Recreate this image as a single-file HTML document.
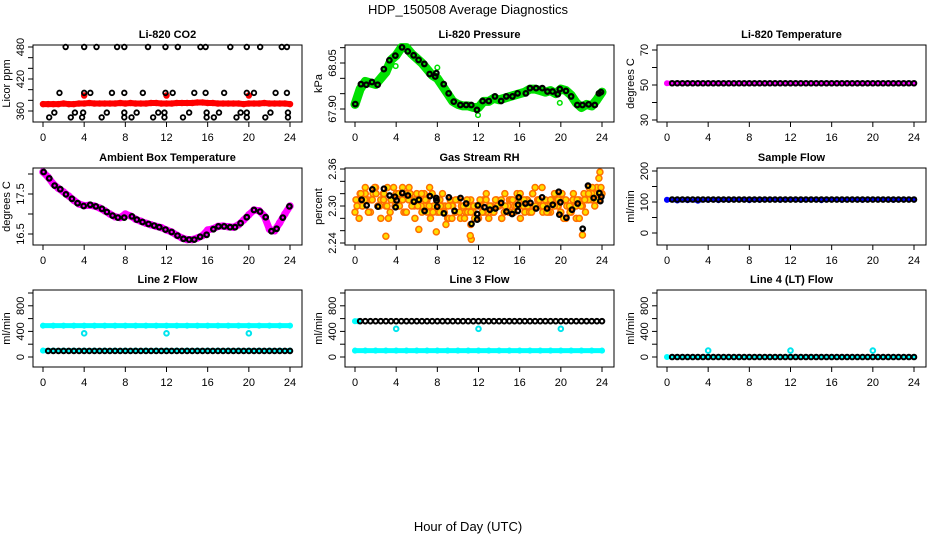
<!DOCTYPE html>
<html><head><meta charset="utf-8">
<style>
html,body{margin:0;padding:0;background:#fff;}
svg{display:block;font-family:"Liberation Sans",sans-serif;}
</style></head>
<body>
<svg id="chart" width="936" height="540" viewBox="0 0 936 540">
<text x="468" y="14" text-anchor="middle" font-size="13">HDP_150508  Average Diagnostics</text>
<text x="468" y="531" text-anchor="middle" font-size="13">Hour of Day (UTC)</text>
</svg>
<script>
// ---------- data ----------
const xTicks = [0,4,8,12,16,20,24];
// CO2
const co2BlackX = [2.2,4.0,5.2,7.2,7.9,10.2,11.9,13.1,15.3,15.8,18.2,19.8,21.1,23.2,23.7,
 1.6,4.0,4.6,6.7,7.9,9.7,11.9,12.6,14.7,15.8,17.6,19.8,20.5,22.6,23.7,
 1.1,3.1,3.9,6.2,7.9,9.1,11.2,11.8,14.2,15.9,17.1,19.2,19.8,22.1,23.8,
 0.6,2.7,3.8,5.7,7.9,8.6,10.7,11.8,13.6,15.9,16.6,18.8,19.8,21.6,23.8];
const co2BlackY = [480,480,480,480,480,480,480,480,480,480,480,480,480,480,480,
 394,394,394,394,394,394,394,394,394,394,394,394,394,394,394,
 357,357,357,357,357,357,357,357,357,357,357,357,357,357,357,
 348,348,348,348,348,348,348,348,348,348,348,348,348,348,348];
const co2Red = [373,373,373,373,374,373,373,374,374,375,374,374,374,374,374,375,374,375,374,374,374,375,375,374,374,374,375,375,375,375,376,376,375,375,374,374,374,374,374,373,374,374,374,375,374,374,374,374,373];
const co2RedOutX = [4.0,12.0,20.0];
const co2RedOutY = [389,389,389];
// Pressure
const presX = [0.03,0.58,1.1,1.65,2.2,2.8,3.34,3.92,4.57,5.12,5.7,6.18,6.74,7.25,7.8,7.9,8.62,9.1,9.6,10.24,10.8,11.3,11.85,12.4,13.0,13.6,14.2,14.7,15.3,15.8,16.6,17.0,17.6,18.2,18.7,19.2,19.7,19.9,20.5,21.0,21.6,22.1,22.7,23.3,23.7,23.9];
const presY = [67.916,67.981,67.979,67.988,67.979,68.030,68.059,68.074,68.101,68.088,68.075,68.060,68.047,68.014,68.006,68.017,67.981,67.951,67.924,67.913,67.913,67.913,67.897,67.926,67.926,67.941,67.926,67.941,67.941,67.951,67.951,67.968,67.968,67.968,67.957,67.957,67.948,67.965,67.959,67.941,67.913,67.913,67.915,67.913,67.951,67.955];
const presGreen = [67.915,67.965,67.99,67.985,67.98,68.0,68.02,68.06,68.075,68.10,68.10,68.08,68.065,68.05,68.03,68.01,68.0,67.975,67.95,67.925,67.915,67.91,67.91,67.905,67.905,67.925,67.925,67.935,67.93,67.935,67.94,67.945,67.95,67.955,67.965,67.965,67.96,67.955,67.96,67.95,67.965,67.96,67.945,67.92,67.905,67.915,67.91,67.93,67.955];
const presGreenOutX = [3.95,8.0,11.95,19.9];
const presGreenOutY = [68.04,68.035,67.88,67.92];
// Li-820 temperature
const tempBlack = [51,51,51,51,51,51,51,51,51,51,51,51,51,51,51,51,51,51,51,51,51,51,51,51,51,51,51,51,51,51,51,51,51,51,51,51,51,51,51,51,51,51,51,51,51,51,51,51];
const tempMag = [51,51,51,51,51,51,51,51,51,51,51,51,51,51,51,51,51,51,51,51,51,51,51,51,51];
// Ambient box temperature
const ambX = [0.06,0.61,1.13,1.68,2.23,2.81,3.36,3.95,4.59,5.14,5.73,6.21,6.76,7.28,7.89,8.64,9.12,9.67,10.25,10.8,11.3,11.9,12.5,13.07,13.65,14.2,14.7,15.27,15.9,16.56,17.05,17.6,18.18,18.66,19.2,19.8,20.5,21.09,21.64,22.2,22.7,23.3,23.94];
const ambY = [18.05,17.89,17.71,17.62,17.49,17.38,17.27,17.20,17.23,17.19,17.13,17.05,16.96,16.91,16.91,16.94,16.86,16.80,16.75,16.71,16.67,16.61,16.55,16.46,16.38,16.36,16.36,16.43,16.48,16.62,16.69,16.69,16.67,16.67,16.77,16.92,17.10,17.06,16.92,16.57,16.63,16.91,17.19];
const ambMag = [18.05,17.92,17.75,17.64,17.55,17.45,17.34,17.25,17.21,17.22,17.2,17.15,17.08,17.0,16.93,16.91,17.0,16.95,16.87,16.82,16.77,16.73,16.69,16.66,16.6,16.55,16.47,16.4,16.36,16.36,16.4,16.46,16.6,16.63,16.69,16.7,16.68,16.67,16.73,16.85,16.98,17.1,17.08,16.95,16.62,16.58,16.78,17.0,17.2];
// Gas stream RH
const rhPx = [148,163,180,197,215,232,248,250,253,270,287,305,320,337,353,372,373,375,395,410,427,445,462,478,495,495,497,517,533,550,567,583,600,617,618,620,640,655,672,690,705,722,740,742,745,763,780,797,812,828,845,862,865,868];
const rhY = [2.310,2.301,2.327,2.299,2.328,2.317,2.315,2.298,2.309,2.321,2.317,2.307,2.310,2.292,2.316,2.313,2.309,2.299,2.288,2.314,2.292,2.313,2.304,2.271,2.287,2.278,2.301,2.298,2.294,2.296,2.305,2.291,2.287,2.292,2.302,2.314,2.304,2.305,2.296,2.314,2.296,2.302,2.323,2.286,2.306,2.281,2.294,2.304,2.263,2.333,2.313,2.321,2.308,2.315];
const rhOrange1 = [2.29,2.31,2.32,2.30,2.33,2.31,2.29,2.32,2.33,2.30,2.31,2.32,2.30,2.28,2.31,2.33,2.32,2.30,2.31,2.29,2.32,2.33,2.31,2.30,2.32,2.31,2.29,2.30,2.31,2.33,2.32,2.30,2.29,2.31,2.32,2.30,2.28,2.31,2.30,2.29,2.31,2.28,2.30,2.29,2.30,2.27,2.29,2.30,2.28,2.30,2.31,2.29,2.28,2.30,2.29,2.31,2.30,2.28,2.29,2.30,2.31,2.29,2.30,2.32,2.31,2.30,2.29,2.31,2.30,2.32,2.33,2.31,2.30,2.29,2.31,2.30,2.29,2.31,2.32,2.30,2.29,2.31,2.28,2.30,2.29,2.30,2.28,2.31,2.30,2.32,2.31,2.33,2.31,2.32,2.33,2.31,2.32];
const rhOrange2 = [2.31,2.28,2.30,2.32,2.29,2.31,2.33,2.30,2.28,2.32,2.30,2.29,2.31,2.32,2.30,2.33,2.29,2.31,2.30,2.28,2.31,2.30,2.32,2.29,2.28,2.30,2.31,2.29,2.30,2.27,2.28,2.30,2.29,2.31,2.30,2.28,2.29,2.31,2.30,2.28,2.31,2.29,2.32,2.30,2.29,2.31,2.30,2.28,2.32,2.30,2.31,2.29,2.30,2.28,2.30,2.31,2.29,2.32,2.30,2.31,2.33,2.30,2.29,2.31,2.32,2.30,2.29,2.28,2.30,2.29,2.31,2.30,2.28,2.30,2.29,2.31,2.32,2.30,2.31,2.33];
const rhOrange3 = [2.30,2.32,2.31,2.29,2.31,2.32,2.30,2.31,2.33,2.31,2.30,2.32,2.31,2.29,2.32,2.31,2.30,2.32,2.31,2.30,2.29,2.31,2.30,2.29,2.30,2.28,2.31,2.29,2.30,2.31,2.29,2.28,2.30,2.29,2.31,2.30,2.29,2.30,2.31,2.30,2.29,2.31,2.30,2.32,2.31,2.30,2.29,2.30,2.31,2.30,2.29,2.31,2.30,2.31,2.32,2.31,2.30,2.32,2.31,2.30,2.31,2.32,2.33,2.31,2.32];
const rhOutX = [3.0,6.2,7.9,11.3,11.2,22.1,23.8,23.7];
const rhOutY = [2.251,2.262,2.258,2.246,2.252,2.253,2.355,2.345];
// Sample flow
const sfBlack = [108,108,108,108,108,108,108,108,108,108,108,108,108,108,108,108,108,108,108,108,108,108,108,108,108,108,108,108,108,108,108,108,108,108,108,108,108,108,108,108,108,108,108,108,108,108,108,108];
const sfBlue = [107,105,106,104,107,106,107,108,106,107,108,107,108,107,108,106,108,107,108,107,108,108,107,108,108];
// Line flows
const l2Black = [95,95,95,95,95,95,95,95,95,95,95,95,95,95,95,95,95,95,95,95,95,95,95,95,95,95,95,95,95,95,95,95,95,95,95,95,95,95,95,95,95,95,95,95,95,95,95,95];
const l2CyanHigh = [490,490,490,490,490,490,490,490,490,490,490,490,490,490,490,490,490,490,490,490,490,490,490,490,490];
const l2CyanLow = [100,100,100,100,100,100,100,100,100,100,100,100,100,100,100,100,100,100,100,100,100,100,100,100,100];
const l2OutX = [4,12,20];
const l2OutY = [370,370,370];
const l3Black = [560,560,560,560,560,560,560,560,560,560,560,560,560,560,560,560,560,560,560,560,560,560,560,560,560,560,560,560,560,560,560,560,560,560,560,560,560,560,560,560,560,560,560,560,560,560,560,560];
const l3CyanLow = [100,100,100,100,100,100,100,100,100,100,100,100,100,100,100,100,100,100,100,100,100,100,100,100,100];
const l3CyanHighX = [0,0.3];
const l3CyanHighY = [560,560];
const l3OutX = [4,12,20];
const l3OutY = [440,440,440];
const l4Black = [0,0,0,0,0,0,0,0,0,0,0,0,0,0,0,0,0,0,0,0,0,0,0,0,0,0,0,0,0,0,0,0,0,0,0,0,0,0,0,0,0,0,0,0,0,0,0,0];
const l4Cyan = [0,0,0,0,0,0,0,0,0,0,0,0,0,0,0,0,0,0,0,0,0,0,0,0,0];
const l4OutX = [4,12,20];
const l4OutY = [100,100,100];

// ---------- drawing ----------
const NS = "http://www.w3.org/2000/svg";
const svg = document.getElementById("chart");
function mk(tag, attrs, parent){
  const e = document.createElementNS(NS, tag);
  for (const k in attrs) e.setAttribute(k, attrs[k]);
  (parent||svg).appendChild(e);
  return e;
}
const cols = [{L:33,R:302,X0:43,X24:290},{L:345,R:614,X0:355,X24:602},{L:657,R:926,X0:667,X24:914}];
const rows = [{T:45,B:122},{T:168,B:245},{T:290,B:367}];
function seqX(n,start,end){ const a=[]; for(let i=0;i<n;i++) a.push(start+(end-start)*i/(n-1)); return a; }

function panel(cfg){
  const c = cols[cfg.col], r = rows[cfg.row];
  const g = mk("g", {});
  
  
  const xs = h => c.X0 + (c.X24 - c.X0) * h / 24;
  const ys = v => cfg.p1 + (v - cfg.v1) * (cfg.p2 - cfg.p1) / (cfg.v2 - cfg.v1);
  const box = mk("rect", {x:c.L, y:r.T, width:c.R-c.L, height:r.B-r.T, fill:"none", stroke:"#000", "stroke-width":1}, g);
  
  
  const t = mk("text", {x:(c.L+c.R)/2, y:r.T-7, "text-anchor":"middle", "font-size":11, "font-weight":"bold"}, g);
  t.textContent = cfg.title;
  
  
  xTicks.forEach(h => {
    const tk = mk("line", {x1:xs(h), x2:xs(h), y1:r.B, y2:r.B+5, stroke:"#000"}, g);
    
    
    const lb = mk("text", {x:xs(h), y:r.B+19, "text-anchor":"middle", "font-size":11}, g);
    lb.textContent = h;
    
    
  });
  cfg.yTicks.forEach(v => {
    const tk = mk("line", {x1:c.L-5, x2:c.L, y1:ys(v), y2:ys(v), stroke:"#000"}, g);
    
    
  });
  cfg.yLabels.forEach(v => {
    const y = ys(v), x = c.L-9;
    const lb = mk("text", {x:x, y:y, "text-anchor":"middle", "font-size":11, transform:`rotate(-90 ${x} ${y})`}, g);
    lb.textContent = v.toFixed(cfg.dec||0);
    
    
  });
  const ym = (r.T+r.B)/2, yx = c.L-23;
  const yt = mk("text", {x:yx, y:ym, "text-anchor":"middle", "font-size":11, transform:`rotate(-90 ${yx} ${ym})`}, g);
  yt.textContent = cfg.ylab;
  
  
  cfg.series.forEach(s => {
    const sg = mk("g", {}, g);
    
    
    if (s.band) {
      const pts = s.x.map((h,i)=>xs(h)+","+ys(s.y[i])).join(" ");
      mk("polyline", {points:pts, fill:"none", stroke:s.color, "stroke-width":s.band, "stroke-linejoin":"round", "stroke-linecap":"round"}, sg);
    }
    s.x.forEach((h,i) => {
      const ci = mk("circle", {cx:xs(h), cy:ys(s.y[i]), r:s.r||2.3, fill:s.fill||"none", stroke:s.color, "stroke-width":s.sw||1.5}, sg);
      
      
    });
  });
}

const h48 = seqX(48,0.5,24);
panel({name:"panel-co2", col:0,row:0,title:"Li-820 CO2",ylab:"Licor ppm",v1:360,p1:111,v2:480,p2:47,
  yTicks:[360,380,400,420,440,460,480], yLabels:[360,420,480],
  series:[
    {name:"co2-red-series", x:seqX(co2Red.length,0,24), y:co2Red, color:"#ff0000", band:6, r:2.5},
    {name:"co2-red-outliers", x:co2RedOutX, y:co2RedOutY, color:"#ff0000", r:2.5, fill:"#ff0000"},
    {name:"co2-black-series", x:co2BlackX, y:co2BlackY, color:"#000", sw:1.8}
  ]});
panel({name:"panel-pressure", col:1,row:0,title:"Li-820 Pressure",ylab:"kPa",v1:67.90,p1:109,v2:68.05,p2:63,dec:2,
  yTicks:[67.90,67.95,68.00,68.05,68.10], yLabels:[67.90,68.05],
  series:[
    {name:"pressure-green-series", x:seqX(presGreen.length,0,24), y:presGreen, color:"#00e000", band:9, r:3},
    {name:"pressure-green-outliers", x:presGreenOutX, y:presGreenOutY, color:"#00e000"},
    {name:"pressure-black-series", x:presX, y:presY, color:"#000", sw:2.2}
  ]});
panel({name:"panel-li820-temperature", col:2,row:0,title:"Li-820 Temperature",ylab:"degrees C",v1:30,p1:120,v2:70,p2:50,
  yTicks:[30,40,50,60,70], yLabels:[30,50,70],
  series:[
    {name:"temp-magenta-series", x:seqX(tempMag.length,0,24), y:tempMag, color:"#ff00ff", band:5},
    {name:"temp-black-series", x:h48, y:tempBlack, color:"#000", sw:2}
  ]});
panel({name:"panel-ambient-temperature", col:0,row:1,title:"Ambient Box Temperature",ylab:"degrees C",v1:16.5,p1:234,v2:17.5,p2:194,dec:1,
  yTicks:[16.5,17.0,17.5,18.0], yLabels:[16.5,17.5],
  series:[
    {name:"ambient-magenta-series", x:seqX(ambMag.length,0,24), y:ambMag, color:"#ff00ff", band:7, r:3},
    {name:"ambient-black-series", x:ambX, y:ambY, color:"#000", sw:2.2}
  ]});
panel({name:"panel-gas-stream-rh", col:1,row:1,title:"Gas Stream RH",ylab:"percent",v1:2.24,p1:243,v2:2.36,p2:169,dec:2,
  yTicks:[2.24,2.26,2.28,2.30,2.32,2.34,2.36], yLabels:[2.24,2.30,2.36],
  series:[
    {name:"rh-orange-series-1", x:seqX(rhOrange1.length,0,24), y:rhOrange1, color:"#ff7000", fill:"#ffdd00", r:3, sw:1.5},
    {name:"rh-orange-series-2", x:seqX(rhOrange2.length,0.1,23.9), y:rhOrange2, color:"#ff7000", fill:"#ffdd00", r:3, sw:1.5},
    {name:"rh-orange-series-3", x:seqX(rhOrange3.length,0.2,23.8), y:rhOrange3, color:"#ff7000", fill:"#ffdd00", r:3, sw:1.5},
    {name:"rh-orange-outliers", x:rhOutX, y:rhOutY, color:"#ff7000", fill:"#ffdd00", r:3, sw:1.5},
    {name:"rh-black-series", x:rhPx.map(p=>(p-128)*24/742), y:rhY, color:"#000", sw:2.2}
  ]});
panel({name:"panel-sample-flow", col:2,row:1,title:"Sample Flow",ylab:"ml/min",v1:0,p1:233,v2:200,p2:171,
  yTicks:[0,50,100,150,200], yLabels:[0,100,200],
  series:[
    {name:"sample-flow-blue-series", x:seqX(sfBlue.length,0,24), y:sfBlue, color:"#0000ff", band:4},
    {name:"sample-flow-black-series", x:h48, y:sfBlack, color:"#000", sw:2}
  ]});
const flowTicks=[0,200,400,600,800,1000], flowLabels=[0,400,800];
panel({name:"panel-line2-flow", col:0,row:2,title:"Line 2 Flow",ylab:"ml/min",v1:0,p1:357,v2:1000,p2:293,
  yTicks:flowTicks, yLabels:flowLabels,
  series:[
    {name:"line2-cyan-high", x:seqX(l2CyanHigh.length,0,24), y:l2CyanHigh, color:"#00ffff", band:5},
    {name:"line2-cyan-low", x:seqX(l2CyanLow.length,0,24), y:l2CyanLow, color:"#00ffff", band:5},
    {name:"line2-cyan-outliers", x:l2OutX, y:l2OutY, color:"#00e5ee", sw:2},
    {name:"line2-black-series", x:h48, y:l2Black, color:"#000", sw:2}
  ]});
panel({name:"panel-line3-flow", col:1,row:2,title:"Line 3 Flow",ylab:"ml/min",v1:0,p1:357,v2:1000,p2:293,
  yTicks:flowTicks, yLabels:flowLabels,
  series:[
    {name:"line3-cyan-low", x:seqX(l3CyanLow.length,0,24), y:l3CyanLow, color:"#00ffff", band:5},
    {name:"line3-cyan-high", x:l3CyanHighX, y:l3CyanHighY, color:"#00ffff", band:5},
    {name:"line3-cyan-outliers", x:l3OutX, y:l3OutY, color:"#00e5ee", sw:2},
    {name:"line3-black-series", x:h48, y:l3Black, color:"#000", sw:2}
  ]});
panel({name:"panel-line4-flow", col:2,row:2,title:"Line 4 (LT) Flow",ylab:"ml/min",v1:0,p1:357,v2:1000,p2:293,
  yTicks:flowTicks, yLabels:flowLabels,
  series:[
    {name:"line4-cyan-series", x:seqX(l4Cyan.length,0,24), y:l4Cyan, color:"#00ffff", band:4},
    {name:"line4-cyan-outliers", x:l4OutX, y:l4OutY, color:"#00e5ee", sw:2},
    {name:"line4-black-series", x:h48, y:l4Black, color:"#000", sw:2}
  ]});
</script>
</body></html>
